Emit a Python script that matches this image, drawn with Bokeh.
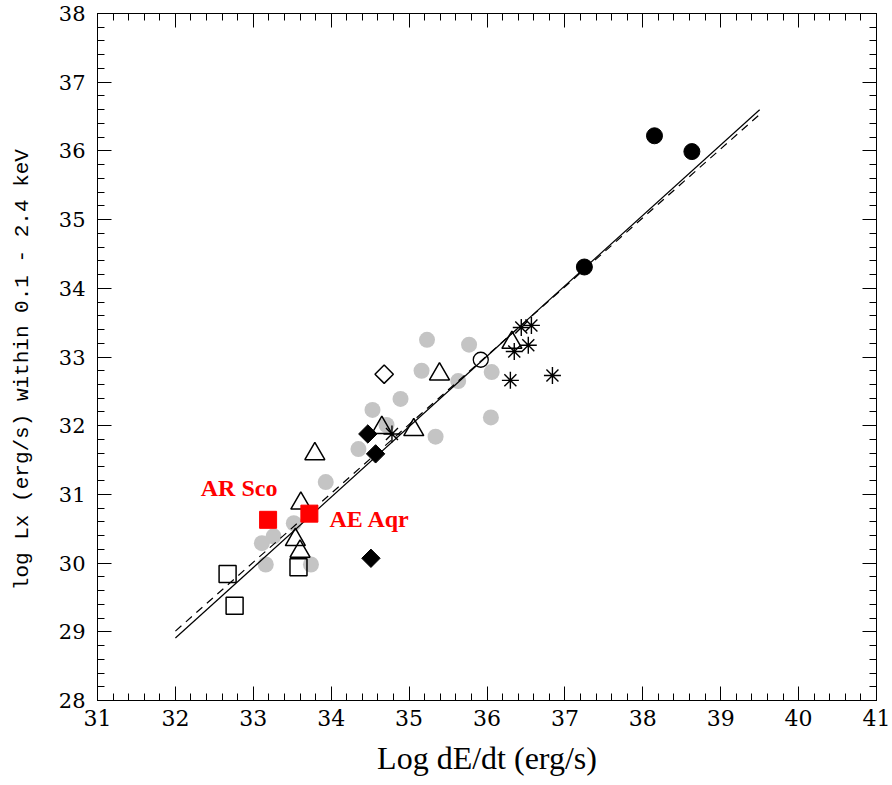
import math
from bokeh.plotting import figure
from bokeh.models import Range1d, LinearAxis, SingleIntervalTicker
from bokeh.core.properties import value
from bokeh.embed import file_html
from bokeh.resources import INLINE

# ---------------- data ----------------
gray_x = [35.23, 35.77, 35.16, 36.06, 35.63, 34.89, 34.53, 36.05, 35.34, 34.35,
          34.71, 33.93, 33.52, 33.11, 33.26, 33.16, 33.74]
gray_y = [33.25, 33.18, 32.80, 32.78, 32.65, 32.39, 32.23, 32.12, 31.84, 31.66,
          32.01, 31.18, 30.58, 30.29, 30.39, 29.98, 29.98]

black_circle_x = [38.15, 38.63, 37.25]
black_circle_y = [36.22, 35.99, 34.31]

black_diamond_x = [34.47, 34.57, 34.51]
black_diamond_y = [31.88, 31.59, 30.07]

open_diamond_x = [34.68]
open_diamond_y = [32.75]

open_circle_x = [35.92]
open_circle_y = [32.96]

triangle_x = [33.79, 33.61, 33.54, 33.60, 35.39, 34.65, 35.06, 36.32]
triangle_y = [31.59, 30.87, 30.34, 30.17, 32.75, 31.97, 31.94, 33.21]

open_square_x = [32.67, 32.76, 33.58]
open_square_y = [29.84, 29.38, 29.94]

asterisk_x = [36.44, 36.57, 36.35, 36.53, 36.30, 36.84, 34.78]
asterisk_y = [33.43, 33.46, 33.08, 33.17, 32.66, 32.73, 31.88]

red_names = ["AR Sco", "AE Aqr"]
red_x = [33.19, 33.72]
red_y = [30.63, 30.72]

fit_solid_x = [32.0, 39.5]
fit_solid_y = [28.91, 36.60]
fit_dash_x = [32.0, 39.5]
fit_dash_y = [29.01, 36.53]

x_limits = (31, 41)
y_limits = (28, 38)

# ---------------- figure ----------------
TICK_FONT = "DejaVu Serif"

p = figure(width=890, height=783, output_backend="svg", toolbar_location=None,
           x_range=Range1d(*x_limits), y_range=Range1d(*y_limits),
           min_border_left=97, min_border_right=14, min_border_top=13,
           min_border_bottom=83)
p.background_fill_color = "white"
p.border_fill_color = "white"
p.outline_line_color = "black"
p.outline_line_width = 1
p.xgrid.visible = False
p.ygrid.visible = False


def style_axis(ax, show_labels):
    ax.ticker = SingleIntervalTicker(interval=1, num_minor_ticks=5)
    ax.major_tick_in = 14
    ax.major_tick_out = 0
    ax.minor_tick_in = 7
    ax.minor_tick_out = 0
    ax.axis_line_color = "black"
    ax.major_tick_line_color = "black"
    ax.minor_tick_line_color = "black"
    ax.major_label_text_font = TICK_FONT
    ax.major_label_text_color = "black"
    if not show_labels:
        ax.major_label_text_font_size = "0px"
        ax.major_label_standoff = 0


xa = p.xaxis[0]
ya = p.yaxis[0]
style_axis(xa, True)
style_axis(ya, True)
xa.major_label_text_font_size = "22px"
xa.major_label_standoff = 9
ya.major_label_text_font_size = "21px"
ya.major_label_standoff = 12

xa.axis_label = "Log dE/dt (erg/s)"
xa.axis_label_text_font = "Liberation Serif"
xa.axis_label_text_font_size = "32px"
xa.axis_label_text_font_style = "normal"
xa.axis_label_text_color = "black"
xa.axis_label_standoff = 11

ya.axis_label = "log Lx  (erg/s)  within 0.1 - 2.4 keV"
ya.axis_label_text_font = "Liberation Mono"
ya.axis_label_text_font_size = "21px"
ya.axis_label_text_font_style = "normal"
ya.axis_label_text_color = "black"
ya.axis_label_standoff = 22

top = LinearAxis()
style_axis(top, False)
p.add_layout(top, "above")
right = LinearAxis()
style_axis(right, False)
p.add_layout(right, "right")

# ---------------- glyphs ----------------
p.scatter(gray_x, gray_y, marker="circle", size=16, fill_color="#c4c4c4",
          line_color=None)

p.line(fit_dash_x, fit_dash_y, line_color="black", line_width=1.2,
       line_dash="8 6")
p.line(fit_solid_x, fit_solid_y, line_color="black", line_width=1.2)

p.scatter(black_circle_x, black_circle_y, marker="circle", size=16,
          fill_color="black", line_color="black")
p.scatter(black_diamond_x, black_diamond_y, marker="square", size=13,
          angle=math.pi / 4, fill_color="black", line_color="black")
p.scatter(open_diamond_x, open_diamond_y, marker="square", size=13,
          angle=math.pi / 4, fill_color=None, line_color="black", line_width=1.5)
p.scatter(open_circle_x, open_circle_y, marker="circle", size=15,
          fill_color=None, line_color="black", line_width=1.3)
p.scatter(triangle_x, triangle_y, marker="triangle", size=20,
          fill_color=None, line_color="black", line_width=1.5)
p.scatter(open_square_x, open_square_y, marker="square", size=17,
          fill_color=None, line_color="black", line_width=1.5)
p.scatter(asterisk_x, asterisk_y, marker="asterisk", size=17,
          line_color="black", line_width=1.4)
p.scatter(red_x, red_y, marker="square", size=17, fill_color="#ff0000",
          line_color="#ff0000")

p.text(x=[red_x[0]], y=[red_y[0]], text=[red_names[0]], x_offset=-29,
       y_offset=-32, text_align="center", text_baseline="middle",
       text_font=value("Liberation Serif"), text_font_style="bold",
       text_font_size="24px", text_color="#ff0000")
p.text(x=[red_x[1]], y=[red_y[1]], text=[red_names[1]], x_offset=20,
       y_offset=5, text_align="left", text_baseline="middle",
       text_font=value("Liberation Serif"), text_font_style="bold",
       text_font_size="24px", text_color="#ff0000")

open("out.html", "w").write(file_html(p, INLINE))
